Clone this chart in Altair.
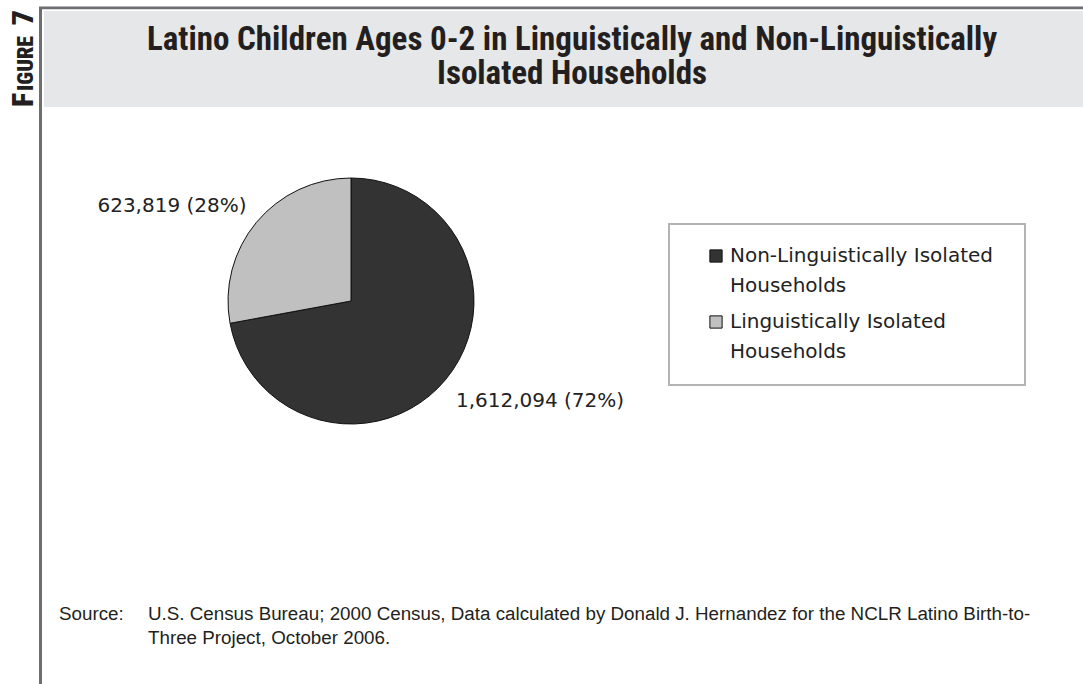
import altair as alt
import pandas as pd

# ---- data ----
categories = ["Non-Linguistically Isolated Households", "Linguistically Isolated Households"]
counts = [1612094, 623819]
slice_colors = ["#333333", "#c0c0c0"]
title_lines = ["Latino Children Ages 0-2 in Linguistically and Non-Linguistically",
               "Isolated Households"]
figure_parts = ["F", "IGURE", "7"]
source_label = ["Source:"]
source_lines = ["U.S. Census Bureau; 2000 Census, Data calculated by Donald J. Hernandez for the NCLR Latino Birth-to-",
                "Three Project, October 2006."]

pie_df = pd.DataFrame({"category": categories, "count": counts, "order": [0, 1]})
one = pd.DataFrame({"k": [0]})

NARROW = "Roboto Condensed, Roboto, Liberation Sans, sans-serif"
DARK = "#231f20"
LINE = "#6d6e71"

color_scale = alt.Scale(domain=categories, range=slice_colors)


def rect(x, x2, y, y2, **kw):
    return alt.Chart(one).mark_rect(**kw).encode(
        x=alt.value(x), x2=alt.value(x2), y=alt.value(y), y2=alt.value(y2))


def text_layer(txt, x, y, **kw):
    df = pd.DataFrame({"t": [txt]})
    return alt.Chart(df).mark_text(**kw).encode(x=alt.value(x), y=alt.value(y), text="t:N")


layers = []
# frame lines and header band
layers.append(rect(39, 42, 7, 684, color=LINE))
layers.append(rect(39, 1083, 6.5, 9.2, color=LINE))
layers.append(rect(44, 1083, 11, 107, color="#e6e7e8"))

# FIGURE 7 vertical label (small caps)
layers.append(text_layer(figure_parts[0], 33, 107, font=NARROW, fontSize=30, fontWeight=900,
                         color=DARK, angle=270, align="left", baseline="alphabetic"))
layers.append(text_layer(figure_parts[1], 33, 91, font=NARROW, fontSize=22, fontWeight=900,
                         color=DARK, angle=270, align="left", baseline="alphabetic"))
layers.append(text_layer(figure_parts[2], 33, 10, font=NARROW, fontSize=30, fontWeight=900,
                         color=DARK, angle=270, align="right", baseline="alphabetic"))

# title
layers.append(text_layer(title_lines[0], 572, 50, font=NARROW, fontSize=33, fontWeight="bold",
                         color=DARK, align="center", baseline="alphabetic"))
layers.append(text_layer(title_lines[1], 572, 84, font=NARROW, fontSize=33, fontWeight="bold",
                         color=DARK, align="center", baseline="alphabetic"))

# pie
pie = alt.Chart(pie_df).mark_arc(outerRadius=123, stroke="#111111", strokeWidth=1).encode(
    theta=alt.Theta("count:Q", stack=True),
    color=alt.Color("category:N", scale=color_scale, legend=None),
    order=alt.Order("order:Q"),
    x=alt.value(351), y=alt.value(301),
)
layers.append(pie)

# value labels
label_base = alt.Chart(pie_df).transform_joinaggregate(total="sum(count)").transform_calculate(
    label="format(datum.count, ',') + ' (' + format(datum.count / datum.total, '.0%') + ')'")
lab_kw = dict(font="DejaVu Sans", fontSize=20, color="#222222", align="center", baseline="middle")
layers.append(label_base.transform_filter(alt.datum.order == 1).mark_text(**lab_kw).encode(
    x=alt.value(172), y=alt.value(206), text="label:N"))
layers.append(label_base.transform_filter(alt.datum.order == 0).mark_text(**lab_kw).encode(
    x=alt.value(540), y=alt.value(401), text="label:N"))

# legend box
layers.append(rect(669, 1025, 224, 385, fill="white", stroke="#b4b4b4", strokeWidth=2))
leg_y = alt.Y("order:Q", scale=alt.Scale(domain=[0, 1], range=[256, 322], nice=False, zero=False), axis=None)
layers.append(alt.Chart(pie_df).mark_square(size=150, filled=True, opacity=1, stroke="#111111",
                                             strokeWidth=1).encode(
    x=alt.value(716), y=leg_y,
    color=alt.Color("category:N", scale=color_scale, legend=None)))
layers.append(alt.Chart(pie_df).transform_calculate(
    leg="replace(datum.category, ' Households', '\\nHouseholds')").mark_text(
    font="DejaVu Sans", fontSize=20, color="#222222", align="left", baseline="top",
    lineBreak="\n", lineHeight=29.5, dy=-10).encode(
    x=alt.value(730), y=leg_y, text="leg:N"))

# source
src_kw = dict(font="Liberation Sans, Arial, sans-serif", fontSize=18.8, color=DARK,
              align="left", baseline="alphabetic")
layers.append(text_layer(source_label[0], 59, 620, **src_kw))
layers.append(text_layer(source_lines[0], 148, 620, **src_kw))
layers.append(text_layer(source_lines[1], 148, 644, **src_kw))

chart = alt.layer(*layers).properties(
    width=1083, height=684, padding=0,
    autosize=alt.AutoSizeParams(type="none"), background="white",
).configure_view(stroke=None)

chart.save("out.html", embed_options={"renderer": "svg", "actions": False})
